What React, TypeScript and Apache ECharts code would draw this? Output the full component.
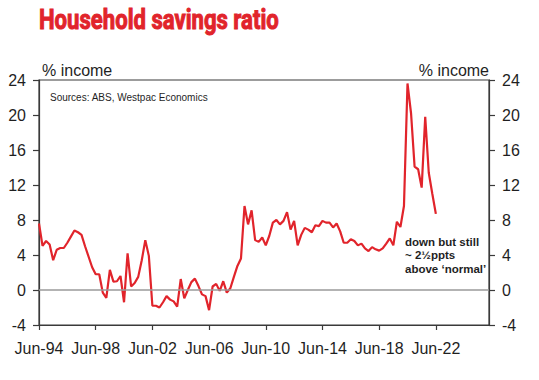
import React, { useEffect, useRef } from "react";
import * as echarts from "echarts";

// Quarterly, starting Jun-94; axis runs to Mar-26
const firstYear = 1994;
const firstQuarterIndex = 1; // 0=Mar,1=Jun,2=Sep,3=Dec
const quarterCount = 128;
const quarterNames = ["Mar", "Jun", "Sep", "Dec"];

const savingsRatio: number[] = [
  7.6, 5.05, 5.6, 5.2, 3.4, 4.6, 4.8, 4.8, 5.4, 6.1,
  6.8, 6.6, 6.3, 5.0, 3.8, 2.6, 1.8, 1.8, -0.3, -0.9,
  2.3, 0.95, 1.0, 1.6, -1.4, 4.2, 0.4, 0.8, 1.5, 3.4,
  5.7, 3.9, -1.8, -1.8, -2.0, -1.4, -0.7, -1.1, -1.3, -1.9,
  1.25, -0.95, 0.0, 0.9, 1.3, 0.45, -0.5, -0.7, -2.3, 0.4,
  0.7, -0.1, 1.0, -0.3, 0.2, 1.5, 2.75, 3.6, 9.6, 7.5,
  9.1, 5.7, 5.5, 6.0, 5.1, 6.2, 7.7, 8.0, 7.5, 7.9,
  8.9, 6.9, 7.9, 5.1, 6.3, 7.1, 6.9, 6.6, 7.4, 7.3,
  7.9, 7.7, 7.7, 7.15, 7.6, 6.7, 5.4, 5.4, 5.8, 5.6,
  5.1, 5.3, 4.75, 4.45, 4.9, 4.65, 4.5, 4.75, 5.3, 5.9,
  5.1, 7.8, 7.2, 9.6, 23.6, 20.2, 14.1, 13.8, 11.7, 19.8,
  13.4, 11.0, 8.7,
];

const yMin = -4;
const yMax = 24;
const yStep = 4;
const labelEvery = 16; // every 4 years

const titleText = "Household savings ratio";
const unitText = "% income";
const sourceText = "Sources: ABS, Westpac Economics";
const noteLines = ["down but still", "~ 2\u00bdppts", "above \u2018normal\u2019"];

function buildCategories(): string[] {
  const out: string[] = [];
  for (let k = 0; k < quarterCount; k++) {
    const q = firstQuarterIndex + k;
    const year = firstYear + Math.floor(q / 4);
    out.push(quarterNames[q % 4] + "-" + String(year % 100).padStart(2, "0"));
  }
  return out;
}

const FONT = "'Liberation Sans', Arial, sans-serif";
const RED = "#E1242B";
const INK = "#1f1f1f";

export default function App() {
  const ref = useRef<HTMLDivElement>(null);
  useEffect(() => {
    if (!ref.current) return;
    const chart = echarts.init(ref.current, null, { renderer: "svg" });
    const categories = buildCategories();
    const yAxisCommon = {
      type: "value",
      min: yMin,
      max: yMax,
      interval: yStep,
      splitLine: { show: false },
      axisLine: { show: true, lineStyle: { color: "#3a3a3a", width: 1.2 } },
      axisTick: { show: true, length: 6, lineStyle: { color: "#3a3a3a", width: 1.2 } },
      axisLabel: { fontSize: 16, color: INK, fontFamily: FONT, margin: 13 },
    };
    chart.setOption({
      animation: false,
      backgroundColor: "#ffffff",
      grid: {
        left: 39,
        right: 50,
        top: 80,
        bottom: 55,
        show: true,
        borderColor: "#3a3a3a",
        borderWidth: 1.2,
      },
      xAxis: {
        type: "category",
        data: categories,
        boundaryGap: false,
        axisLine: { show: true, onZero: false, lineStyle: { color: "#3a3a3a", width: 1.2 } },
        axisTick: {
          show: true,
          length: 5,
          interval: (i: number) => i % labelEvery === 0,
          lineStyle: { color: "#3a3a3a", width: 1.2 },
        },
        axisLabel: {
          interval: (i: number) => i % labelEvery === 0,
          fontSize: 16,
          color: INK,
          fontFamily: FONT,
          margin: 15,
        },
        splitLine: { show: false },
      },
      yAxis: [
        { ...yAxisCommon, position: "left" },
        { ...yAxisCommon, position: "right" },
      ],
      series: [
        {
          type: "line",
          data: savingsRatio,
          yAxisIndex: 0,
          showSymbol: false,
          symbol: "none",
          lineStyle: { color: RED, width: 2.2 },
          markLine: {
            silent: true,
            symbol: "none",
            label: { show: false },
            lineStyle: { color: "#9a9a9a", width: 1.5, type: "solid" },
            data: [{ yAxis: 0 }],
          },
          z: 3,
        },
      ],
      graphic: [
        {
          type: "text",
          x: 39,
          y: 19.5,
          scaleX: 0.79,
          style: {
            text: titleText,
            font: "bold 28px Roboto, 'Liberation Sans', sans-serif",
            fill: RED,
            stroke: RED,
            lineWidth: 1,
            verticalAlign: "middle",
            align: "left",
          },
        },
        {
          type: "text",
          x: 42,
          y: 70,
          style: { text: unitText, font: "16px " + FONT, fill: INK, verticalAlign: "middle", align: "left" },
        },
        {
          type: "text",
          x: 489,
          y: 70,
          style: { text: unitText, font: "16px " + FONT, fill: INK, verticalAlign: "middle", align: "right" },
        },
        {
          type: "text",
          x: 50,
          y: 97,
          style: { text: sourceText, font: "10px " + FONT, fill: INK, verticalAlign: "middle", align: "left" },
        },
        {
          type: "text",
          x: 405,
          y: 235,
          style: {
            text: noteLines.join("\n"),
            font: "bold 11.5px " + FONT,
            lineHeight: 13.5,
            fill: INK,
            verticalAlign: "top",
            align: "left",
          },
        },
      ],
    });
    return () => chart.dispose();
  }, []);
  return (
    <div
      ref={ref}
      style={{ width: 539, height: 380, position: "fixed", left: 0, top: 0 }}
    />
  );
}
